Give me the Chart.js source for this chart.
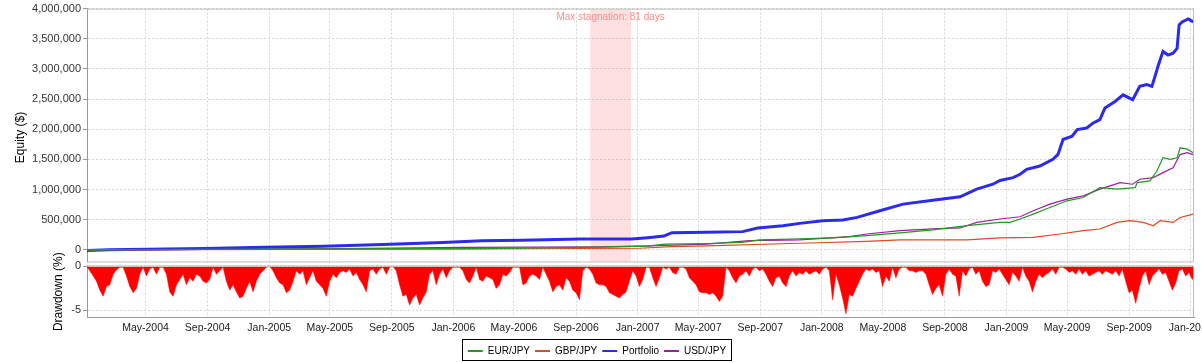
<!DOCTYPE html>
<html>
<head>
<meta charset="utf-8">
<title>Equity and drawdown</title>
<script src="https://cdn.jsdelivr.net/npm/chart.js@4.4.1/dist/chart.umd.min.js"></script>
<style>
  html, body { margin: 0; padding: 0; background: #fff; }
  canvas { display: block; }
</style>
</head>
<body>
<canvas id="equity-chart" width="1202" height="363"></canvas>
<script>
// Equity per pair, in dollars: [date, value]
const eurJpy = [
    ['2004-01-05', 0], ['2004-08-26', 8000], ['2005-06-01', 15000], ['2006-02-26', 21000],
    ['2006-10-20', 45000], ['2007-01-21', 61000], ['2007-02-24', 95000], ['2007-05-18', 105000],
    ['2007-07-28', 125000], ['2007-08-31', 165000], ['2007-11-18', 181000], ['2008-01-23', 198000],
    ['2008-03-30', 236000], ['2008-06-04', 280000], ['2008-08-08', 330000], ['2008-10-15', 400000],
    ['2008-12-19', 455000], ['2009-01-08', 455000], ['2009-01-28', 511000], ['2009-02-23', 593000],
    ['2009-03-28', 702000], ['2009-05-01', 813000], ['2009-06-02', 867000], ['2009-07-05', 1030000],
    ['2009-08-08', 1006000], ['2009-09-13', 1030000], ['2009-09-17', 1114000], ['2009-10-12', 1142000],
    ['2009-10-26', 1307000], ['2009-11-07', 1527000], ['2009-11-21', 1500000], ['2009-12-05', 1527000],
    ['2009-12-11', 1692000], ['2009-12-25', 1670000], ['2010-01-06', 1610000]
];
const gbpJpy = [
    ['2004-01-05', 0], ['2005-09-16', 10000], ['2007-01-05', 26000], ['2007-03-10', 54000],
    ['2007-05-18', 66000], ['2007-11-18', 109000], ['2008-03-30', 142000], ['2008-06-04', 165000],
    ['2008-10-15', 165000], ['2008-12-19', 198000], ['2009-02-23', 208000], ['2009-04-17', 263000],
    ['2009-06-02', 318000], ['2009-07-05', 346000], ['2009-08-08', 455000], ['2009-09-03', 483000],
    ['2009-09-29', 455000], ['2009-10-19', 400000], ['2009-11-01', 483000], ['2009-11-27', 455000],
    ['2009-12-11', 537000], ['2010-01-06', 593000]
];
const portfolio = [
    ['2004-01-05', -10000], ['2004-02-19', 3000], ['2004-08-26', 21000], ['2004-12-23', 45000],
    ['2005-04-19', 61000], ['2005-08-14', 89000], ['2005-12-11', 122000], ['2006-02-26', 150000],
    ['2006-05-16', 157000], ['2006-09-10', 178000], ['2006-12-20', 178000], ['2007-01-21', 201000],
    ['2007-02-22', 229000], ['2007-03-10', 285000], ['2007-05-18', 290000], ['2007-07-28', 302000],
    ['2007-08-27', 363000], ['2007-10-16', 400000], ['2007-11-18', 439000], ['2008-01-03', 483000],
    ['2008-02-12', 494000], ['2008-03-11', 538000], ['2008-04-25', 648000], ['2008-06-10', 758000],
    ['2008-08-08', 824000], ['2008-10-01', 879000], ['2008-11-03', 1006000], ['2008-12-05', 1088000],
    ['2008-12-19', 1150000], ['2009-01-14', 1197000], ['2009-01-28', 1253000], ['2009-02-10', 1335000],
    ['2009-03-08', 1390000], ['2009-04-03', 1500000], ['2009-04-13', 1583000], ['2009-04-23', 1830000],
    ['2009-05-11', 1884000], ['2009-05-21', 1995000], ['2009-06-09', 2020000], ['2009-06-21', 2100000],
    ['2009-07-05', 2160000], ['2009-07-15', 2350000], ['2009-08-04', 2460000], ['2009-08-20', 2570000],
    ['2009-09-08', 2490000], ['2009-09-22', 2710000], ['2009-10-06', 2740000], ['2009-10-16', 2710000],
    ['2009-10-22', 2870000], ['2009-10-28', 3040000], ['2009-11-07', 3290000], ['2009-11-17', 3230000],
    ['2009-11-27', 3260000], ['2009-12-05', 3340000], ['2009-12-09', 3730000], ['2009-12-15', 3780000],
    ['2009-12-27', 3830000], ['2010-01-06', 3780000]
];
const usdJpy = [
    ['2004-01-05', 0], ['2004-08-26', 10000], ['2005-06-01', 20000], ['2006-01-17', 40000],
    ['2006-10-20', 50000], ['2007-01-21', 65000], ['2007-05-18', 95000], ['2007-08-11', 153000],
    ['2007-11-18', 165000], ['2008-02-25', 219000], ['2008-03-30', 263000], ['2008-06-04', 318000],
    ['2008-08-08', 346000], ['2008-10-01', 363000], ['2008-11-03', 455000], ['2008-12-19', 511000],
    ['2009-01-28', 549000], ['2009-02-23', 648000], ['2009-03-28', 758000], ['2009-05-01', 841000],
    ['2009-06-02', 895000], ['2009-07-05', 1006000], ['2009-08-14', 1114000], ['2009-09-08', 1088000],
    ['2009-09-22', 1170000], ['2009-10-19', 1197000], ['2009-11-07', 1280000], ['2009-11-27', 1360000],
    ['2009-12-11', 1580000], ['2009-12-25', 1610000], ['2010-01-06', 1580000]
];

const seriesNames = ['EUR/JPY', 'GBP/JPY', 'Portfolio', 'USD/JPY'];
const seriesData = [eurJpy, gbpJpy, portfolio, usdJpy];
const seriesColors = ['#1f9c1f', '#e2491e', '#2b2bf0', '#a01fa0'];
const seriesWidths = [1.2, 1.2, 3, 1.2];

// Portfolio drawdown (%), one reading every 6.6 days from the start date
const drawdownStart = '2004-01-05';
const drawdownStepDays = 6.6;
const drawdown = [
    0, -0.5, -1.1, -1.7, -2.7, -3.4, -2.3, -2.1, -0.9, -0.4,
    -0.1, -0.1, -1.1, -2.3, -3.0, -2.5, -0.9, -0.1, -1.1, -0.3,
    -0.1, -0.9, -0.1, -0.1, -0.9, -2.9, -3.4, -2.1, -1.5, -0.9,
    -2.1, -1.3, -1.7, -0.9, -1.1, -1.7, -1.9, -1.5, -0.1, -0.9,
    -0.5, -0.1, -1.7, -2.7, -2.1, -2.9, -3.6, -3.4, -2.5, -1.7,
    -2.9, -1.7, -0.9, -0.5, -0.1, 0, -0.5, -1.3, -1.9, -2.1,
    -3.0, -2.7, -1.7, -0.5, -0.9, -0.5, -2.1, -1.3, -0.5, -1.7,
    -2.1, -2.5, -3.4, -1.7, -0.9, -1.3, -0.7, -0.5, -0.7, -0.3,
    -1.1, -0.7, -1.5, -2.1, -2.9, -0.5, -0.3, -0.9, -0.3, -0.1,
    -0.9, -0.1, 0, -0.5, -2.1, -3.4, -3.2, -4.4, -3.6, -3.2,
    -4.4, -3.6, -2.9, -0.9, -0.5, -2.1, -0.9, -0.3, -1.3, -0.5,
    -0.1,
    -0.1, -0.1, -0.5, -1.5, -1.9, -1.1, -0.1, -1.5, -1.7, -1.1,
    -1.3, -1.5, -2.5, -2.1, -0.9, -1.1, -0.7, -0.1, -0.1, -0.1,
    -2.1, -1.9, -1.1, -0.9, -1.1, -1.5, -0.1, -0.9, -1.7, -2.9,
    -2.3, -2.1, -2.7, -1.3, -1.7, -2.7, -3.0, -3.8, -0.5, -0.1,
    -0.3, -0.9, -1.9, -2.1, -2.1, -2.3, -3.0, -3.2, -3.4, -3.6,
    -3.2, -2.9, -1.7, -0.5, -1.1, -2.3, -1.5, -0.1, -0.1, -1.3,
    -2.3, -1.3, -0.1, -0.3, -0.1, -0.7, -0.9, -0.1, -0.1, -0.3,
    -1.3, -1.7, -2.1, -2.9, -3.0, -3.0, -3.2, -3.0, -3.4, -4.0,
    -3.4, -0.1, -0.5, -1.3, -1.9, -1.1, -0.9, -0.5, -1.1, -0.3,
    -0.1, -0.5, -0.3, -0.9, -1.7, -2.3, -1.3, -1.1, -1.9, -2.3,
    -1.1, -0.5, -1.1, -0.7, -0.9, -0.5, -0.9, -0.7, -0.5, -0.9,
    -0.3,
    -0.1, -0.5, -3.8, -0.9, -2.1, -3.6, -5.4, -3.2, -3.4, -2.5,
    -1.7, -0.9, -0.3, -0.5, -0.3, -0.7, -0.5, -2.3, -1.1, -1.7,
    -0.1, -1.3, -0.3, -0.1, -0.1, -0.5, -0.5, -0.7, -0.5, -0.5,
    -0.9, -2.1, -3.2, -2.5, -2.1, -3.4, -0.9, -0.3, -0.9, -1.1,
    -3.4, -0.5, -1.1, -0.3, -0.1, -0.9, -0.5, -1.7, -2.3, -2.1,
    -0.5, -0.7, -0.3, -0.9, -1.5, -2.1, -0.7, -1.1, -1.7, -0.1,
    -1.1, -1.7, -2.9, -1.7, -0.9, -1.3, -0.9, -0.7, -0.3, -0.9,
    -0.1, -0.1, -0.3, -0.7, -0.5, -0.9, -0.3, -0.9, -0.5, -1.1,
    -0.9, -0.7, -0.5, -0.9, -0.5, -0.7, -0.9, -0.5, -1.1, -0.3,
    -1.7, -3.0, -2.7, -4.2, -2.5, -1.1, -0.5, -2.1, -1.1, -0.7,
    -0.3, -0.9, -0.7, -1.7, -2.7, -1.9, -0.5, -0.3, -1.1, -0.7,
    -1.5, -0.5
];

const tickDates = [
    '2004-05-01', '2004-09-01', '2005-01-01', '2005-05-01', '2005-09-01', '2006-01-01',
    '2006-05-01', '2006-09-01', '2007-01-01', '2007-05-01', '2007-09-01', '2008-01-01',
    '2008-05-01', '2008-09-01', '2009-01-01', '2009-05-01', '2009-09-01', '2010-01-01'
];
const tickLabels = [
    'May-2004', 'Sep-2004', 'Jan-2005', 'May-2005', 'Sep-2005', 'Jan-2006',
    'May-2006', 'Sep-2006', 'Jan-2007', 'May-2007', 'Sep-2007', 'Jan-2008',
    'May-2008', 'Sep-2008', 'Jan-2009', 'May-2009', 'Sep-2009', 'Jan-2010'
];
const equityTicks = [0, 500000, 1000000, 1500000, 2000000, 2500000, 3000000, 3500000, 4000000];
const drawdownTicks = [-5, 0];

const stagnation = ['2006-09-29', '2006-12-19'];
const stagnationLabel = 'Max stagnation: 81 days';

const DAY = 86400000;
const FONT = '"Liberation Sans", Arial, sans-serif';
const GAP = 5; // white strip between equity and drawdown plots

Chart.defaults.font.family = FONT;

const datasets = seriesNames.map((name, i) => ({
    label: name,
    data: seriesData[i].map(([d, v]) => ({ x: Date.parse(d), y: v })),
    borderColor: seriesColors[i],
    backgroundColor: seriesColors[i],
    borderWidth: seriesWidths[i],
    pointRadius: 0,
    tension: 0,
    yAxisID: 'y'
}));

datasets.push({
    label: 'Drawdown',
    data: drawdown.map((v, i) => ({ x: Date.parse(drawdownStart) + i * drawdownStepDays * DAY, y: v })),
    borderColor: '#ff0000',
    backgroundColor: '#ff0000',
    borderWidth: 0.5,
    pointRadius: 0,
    tension: 0,
    fill: 'origin',
    yAxisID: 'dd'
});

// Frames, stagnation band, gap and the drawdown title
const decorations = {
    id: 'decorations',
    beforeDatasetsDraw(chart) {
        const { ctx, chartArea: a, scales: { x, y } } = chart;
        const eqBottom = y.bottom - GAP;
        ctx.save();
        ctx.fillStyle = '#fff';
        ctx.fillRect(a.left - 2, eqBottom + 1, a.width + 4, GAP - 2);

        const x0 = x.getPixelForValue(Date.parse(stagnation[0]));
        const x1 = x.getPixelForValue(Date.parse(stagnation[1]));
        ctx.fillStyle = 'rgba(255, 0, 0, 0.12)';
        ctx.fillRect(x0, a.top + 1, x1 - x0, eqBottom - a.top - 1);
        ctx.fillStyle = '#ff8a8a';
        ctx.font = '10px ' + FONT;
        ctx.textAlign = 'center';
        ctx.textBaseline = 'middle';
        ctx.fillText(stagnationLabel, (x0 + x1) / 2, a.top + 8.5);
        ctx.restore();
    },
    afterDatasetsDraw(chart) {
        const { ctx, chartArea: a, scales: { y, dd } } = chart;
        const eqBottom = y.bottom - GAP;
        ctx.save();
        ctx.strokeStyle = '#bdbdbd';
        ctx.lineWidth = 1;
        ctx.beginPath();
        ctx.moveTo(a.left, a.top + 0.5);
        ctx.lineTo(a.right - 0.5, a.top + 0.5);
        ctx.lineTo(a.right - 0.5, eqBottom + 0.5);
        ctx.lineTo(a.left, eqBottom + 0.5);
        ctx.moveTo(a.left, dd.top - 0.5);
        ctx.lineTo(a.right - 0.5, dd.top - 0.5);
        ctx.lineTo(a.right - 0.5, a.bottom);
        ctx.stroke();
        ctx.restore();
    },
    afterDraw(chart) {
        const { ctx, scales: { dd } } = chart;
        ctx.save();
        ctx.fillStyle = '#000';
        ctx.font = '12px ' + FONT;
        ctx.textAlign = 'center';
        ctx.textBaseline = 'middle';
        ctx.translate(59, (dd.top + dd.bottom) / 2);
        ctx.rotate(-Math.PI / 2);
        ctx.fillText('Drawdown (%)', 0, 0);
        ctx.restore();

        const boxes = chart.legend.legendHitBoxes;
        if (boxes.length) {
            const first = boxes[0];
            const last = boxes[boxes.length - 1];
            const left = Math.floor(first.left) - 4.5;
            const right = Math.ceil(last.left + last.width) + 4.5;
            ctx.save();
            ctx.strokeStyle = '#000';
            ctx.lineWidth = 1;
            ctx.strokeRect(left, Math.round(first.top) - 6.5, right - left, 21);
            ctx.restore();
        }
    }
};

const ctx = document.getElementById('equity-chart').getContext('2d');

const chart = new Chart(ctx, {
    type: 'line',
    data: { datasets },
    plugins: [decorations],
    options: {
        responsive: false,
        animation: false,
        events: [],
        layout: { padding: { top: 6, right: 8, bottom: 0, left: 0 } },
        plugins: {
            tooltip: { enabled: false },
            legend: {
                position: 'bottom',
                maxHeight: 22,
                labels: {
                    color: '#000',
                    font: { size: 10 },
                    padding: 5,
                    usePointStyle: true,
                    pointStyle: 'line',
                    pointStyleWidth: 15,
                    filter: item => item.datasetIndex < seriesNames.length,
                    generateLabels: c => Chart.defaults.plugins.legend.labels.generateLabels(c)
                        .map(l => ({ ...l, lineWidth: 2 }))
                }
            }
        },
        scales: {
            x: {
                type: 'linear',
                min: Date.parse('2004-01-06'),
                max: Date.parse('2010-01-07T12:00:00Z'),
                afterBuildTicks: s => { s.ticks = tickDates.map(d => ({ value: Date.parse(d) })); },
                afterFit: s => { s.height = 24; s.paddingLeft = 0; s.paddingRight = 0; },
                ticks: {
                    autoSkip: false,
                    maxRotation: 0,
                    padding: 5,
                    color: '#222',
                    font: { size: 10.5 },
                    callback: (v, i) => tickLabels[i]
                },
                grid: { color: '#d6d6d6', drawTicks: false },
                border: { color: '#999', dash: [2, 2] }
            },
            dd: {
                position: 'left',
                stack: 'plots',
                stackWeight: 51,
                min: -5.76,
                max: 0,
                afterBuildTicks: s => { s.ticks = drawdownTicks.map(v => ({ value: v })); },
                afterFit: s => { s.width = 87; },
                ticks: { padding: 2, color: '#333', font: { size: 11 } },
                grid: { color: '#d6d6d6', tickColor: '#999', tickLength: 4 },
                border: { color: '#999', dash: [2, 2] }
            },
            y: {
                position: 'left',
                stack: 'plots',
                stackWeight: 260,
                min: -275000,
                max: 4000000,
                afterBuildTicks: s => { s.ticks = equityTicks.map(v => ({ value: v })); },
                afterFit: s => { s.width = 87; },
                ticks: {
                    padding: 2, color: '#333', font: { size: 11 },
                    callback: v => v.toLocaleString('en-US')
                },
                grid: { color: '#d6d6d6', tickColor: '#999', tickLength: 4 },
                border: { color: '#999', dash: [2, 2] },
                title: { display: true, text: 'Equity ($)', color: '#000', font: { size: 12 }, padding: { top: 13 } }
            }
        }
    }
});
</script>
</body>
</html>
